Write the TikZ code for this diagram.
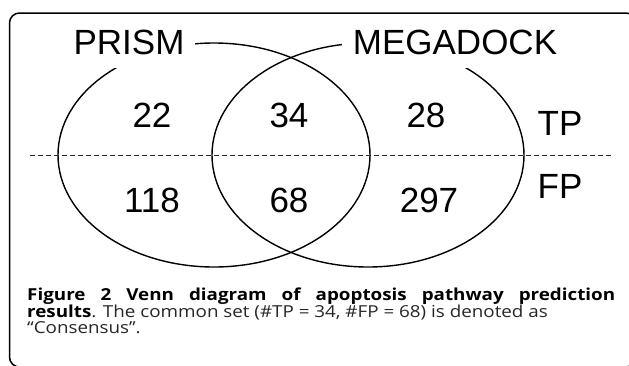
\documentclass[tikz,border=0pt]{standalone}
\usepackage{fontspec}
\setmainfont{Liberation Sans}
\newfontfamily\capfont[FakeStretch=1.14]{Open Sans}
\usetikzlibrary{shapes.geometric}
\begin{document}
\begin{tikzpicture}[x=1pt,y=-1pt,
  venn/.style={draw, ellipse, minimum width=312pt, minimum height=224pt, inner sep=0pt, line width=1.4pt},
  setlabel/.style={fill=white, inner xsep=11pt, inner ysep=13pt, font=\fontsize{35}{40}\selectfont},
  count/.style={font=\fontsize{35}{40}\selectfont, inner sep=0pt},
  sepline/.style={line width=1pt, dash pattern=on 5pt off 3pt, draw=black!85},
  capline/.style={anchor=base west, inner sep=0pt, font=\capfont\fontsize{16.5}{18}\selectfont}]
\clip (0,0) rectangle (629,365);
\draw[line width=1.5pt, rounded corners=10pt] (9.5,13) rectangle (636,367);
\node[venn] (prism) at (214,155) {};
\node[venn] (mega) at (368,155) {};
\coordinate (dl) at (30,155);
\coordinate (dr) at (613,155);
\draw[sepline] (dl) -- (dr);
\node[setlabel] (lprism) at (129,42.5) {PRISM};
\node[setlabel] (lmega) at (455,42.5) {MEGADOCK};
\node[count] (n22) at (152,115) {22};
\node[count] (n34) at (289,115) {34};
\node[count] (n28) at (426,115) {28};
\node[count] (tp) at (560,123.5) {TP};
\node[count] (n118) at (152,200.5) {118};
\node[count] (n68) at (289,200.5) {68};
\node[count] (n297) at (429,200.5) {297};
\node[count] (fp) at (560,186.5) {FP};
\node[capline] (c1) at (27,300) {\makebox[588pt][s]{\bfseries Figure 2 Venn diagram of apoptosis pathway prediction}};
\node[capline, text=black!85] (c2) at (27,317) {\textbf{\color{black}results}. The common set (\#TP = 34, \#FP = 68) is denoted as};
\node[capline, text=black!85] (c3) at (27,333) {“Consensus”.};
\end{tikzpicture}
\end{document}
